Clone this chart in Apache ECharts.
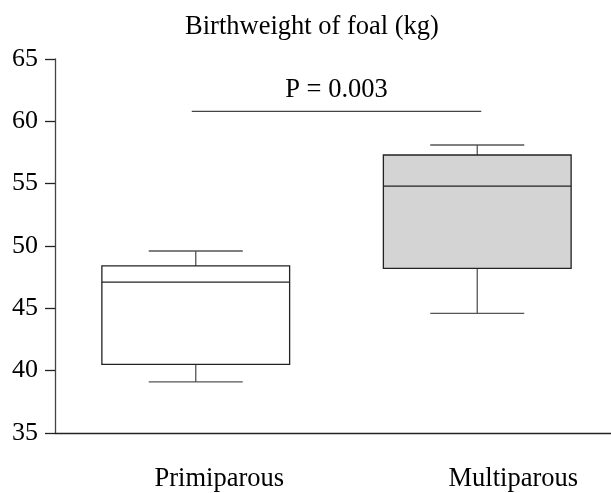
<!DOCTYPE html>
<html>
<head>
<meta charset="utf-8">
<title>Birthweight of foal</title>
<script src="https://cdn.jsdelivr.net/npm/echarts@6/dist/echarts.min.js"></script>
<style>
  html, body { margin: 0; padding: 0; background: #fff; overflow: hidden; }
  /* the plot's x axis runs a few px past the right edge of the window */
  #chart { width: 618px; height: 493px; }
</style>
</head>
<body>
<div id="chart"></div>
<script>
// data
const categories = ['Primiparous', 'Multiparous'];
const minVals = [39.1, 44.6];
const q1Vals = [40.5, 48.2];
const medianVals = [47.1, 54.8];
const q3Vals = [48.4, 57.3];
const maxVals = [49.6, 58.1];
const yTicks = [35, 40, 45, 50, 55, 60, 65];
const pLabel = 'P = 0.003';
const sigLevel = 60.8;

const FONT = '"Liberation Serif", "Times New Roman", serif';
const boxFills = ['#ffffff', '#d4d4d4'];
// the category labels sit a little right of their ticks in the original
const labelPad = [47, 72];

const boxData = categories.map((c, i) =>
  [i, minVals[i], q1Vals[i], medianVals[i], q3Vals[i], maxVals[i]]);

const renderBox = (params, api) => {
  const idx = api.value(0);
  const band = api.size([1, 0])[0];
  const half = band * 0.3335;
  const cap = band * 0.167;
  const pMin = api.coord([idx, api.value(1)]);
  const pQ1 = api.coord([idx, api.value(2)]);
  const pMed = api.coord([idx, api.value(3)]);
  const pQ3 = api.coord([idx, api.value(4)]);
  const pMax = api.coord([idx, api.value(5)]);
  const cx = pMin[0];
  const whisker = { stroke: '#555', lineWidth: 1.3 };
  const edge = { stroke: '#222', lineWidth: 1.3 };
  return {
    type: 'group',
    children: [
      { type: 'line', shape: { x1: cx, y1: pMax[1], x2: cx, y2: pQ3[1] }, style: whisker },
      { type: 'line', shape: { x1: cx, y1: pQ1[1], x2: cx, y2: pMin[1] }, style: whisker },
      { type: 'line', shape: { x1: cx - cap, y1: pMax[1], x2: cx + cap, y2: pMax[1] }, style: whisker },
      { type: 'line', shape: { x1: cx - cap, y1: pMin[1], x2: cx + cap, y2: pMin[1] }, style: whisker },
      {
        type: 'rect',
        shape: { x: cx - half, y: pQ3[1], width: half * 2, height: pQ1[1] - pQ3[1] },
        style: { fill: boxFills[idx], stroke: '#222', lineWidth: 1.3 }
      },
      { type: 'line', shape: { x1: cx - half, y1: pMed[1], x2: cx + half, y2: pMed[1] }, style: edge }
    ]
  };
};

const renderSig = (params, api) => {
  const a = api.coord([api.value(0), api.value(2)]);
  const b = api.coord([api.value(1), api.value(2)]);
  const x1 = a[0] - 4, x2 = b[0] + 4;
  return {
    type: 'group',
    children: [
      { type: 'line', shape: { x1: x1, y1: a[1], x2: x2, y2: a[1] }, style: { stroke: '#444', lineWidth: 1.3 } },
      {
        type: 'text',
        x: (x1 + x2) / 2,
        y: a[1] - 8,
        style: {
          text: pLabel, fill: '#000', font: '26.5px ' + FONT,
          textAlign: 'center', textVerticalAlign: 'bottom'
        }
      }
    ]
  };
};

const chart = echarts.init(document.getElementById('chart'));

const option = {
  animation: false,
  backgroundColor: '#fff',
  title: {
    text: 'Birthweight of foal (kg)',
    left: 307,
    top: 9,
    textAlign: 'center',
    textStyle: { fontFamily: FONT, fontSize: 26.5, fontWeight: 'normal', color: '#000' }
  },
  grid: { left: 55, right: 0, top: 59, bottom: 59 },
  xAxis: {
    type: 'category',
    data: categories,
    boundaryGap: true,
    axisLine: { lineStyle: { color: '#222', width: 1.3 } },
    axisTick: { alignWithLabel: true, length: 11, lineStyle: { color: '#444', width: 1.3 } },
    axisLabel: {
      margin: 33,
      color: '#000',
      fontFamily: FONT,
      fontSize: 26.5,
      formatter: (val, i) => '{c' + i + '|' + val + '}',
      rich: {
        c0: { fontFamily: FONT, fontSize: 26.5, color: '#000', padding: [0, 0, 0, labelPad[0]] },
        c1: { fontFamily: FONT, fontSize: 26.5, color: '#000', padding: [0, 0, 0, labelPad[1]] }
      }
    },
    splitLine: { show: false }
  },
  yAxis: {
    type: 'value',
    min: yTicks[0],
    max: yTicks[yTicks.length - 1],
    interval: 5,
    axisLine: { show: true, lineStyle: { color: '#444', width: 1.3 } },
    axisTick: { show: true, length: 10, lineStyle: { color: '#222', width: 1.3 } },
    axisLabel: { margin: 17, color: '#000', fontFamily: FONT, fontSize: 26 },
    splitLine: { show: false }
  },
  series: [
    {
      type: 'custom',
      renderItem: renderBox,
      encode: { x: 0, y: [1, 2, 3, 4, 5] },
      data: boxData
    },
    {
      type: 'custom',
      renderItem: renderSig,
      encode: { x: [0, 1], y: 2 },
      data: [[0, 1, sigLevel]]
    }
  ]
};

chart.setOption(option);
window.addEventListener('resize', () => chart.resize());
</script>
</body>
</html>
